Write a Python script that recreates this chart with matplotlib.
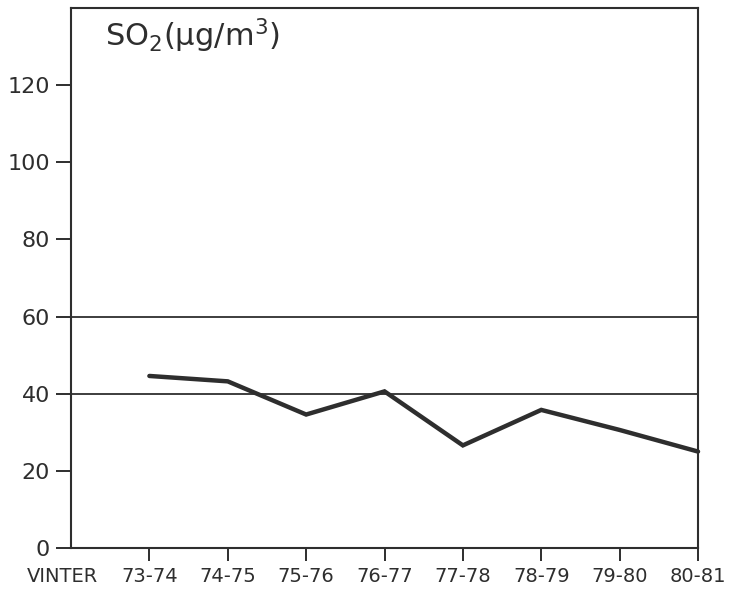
import matplotlib
matplotlib.use("Agg")
import matplotlib.pyplot as plt

# Winter-season mean SO2 concentrations
seasons = ["73-74", "74-75", "75-76", "76-77", "77-78", "78-79", "79-80", "80-81"]
so2 = [44.6, 43.2, 34.6, 40.6, 26.6, 35.8, 30.6, 25.0]
y_ticks = [0, 20, 40, 60, 80, 100, 120]
ref_levels = [40, 60]

ink = "#2e2e2e"
plt.rcParams["font.family"] = ["DejaVu Sans"]

fig = plt.figure(figsize=(7.29, 5.95), dpi=100)
ax = fig.add_axes([0.0974, 0.079, 0.8601, 0.9076])

x = list(range(1, len(seasons) + 1))

for lvl in ref_levels:
    ax.axhline(lvl, color=ink, lw=1.3, zorder=1)

ax.plot(x, so2, color=ink, lw=3.2, solid_capstyle="round",
        solid_joinstyle="miter", zorder=3, clip_on=False)

ax.set_xlim(0, len(seasons))
ax.set_ylim(0, 140)
ax.set_xticks(x)
ax.set_xticklabels(seasons, fontsize=14, color=ink)
ax.set_yticks(y_ticks)
ax.set_yticklabels([str(v) for v in y_ticks], fontsize=16, color=ink)

ax.tick_params(axis="y", direction="out", length=11, width=1.4, pad=4, colors=ink)
ax.tick_params(axis="x", direction="out", length=9, width=1.4, pad=5, colors=ink)
for side in ax.spines.values():
    side.set_linewidth(1.5)
    side.set_color(ink)

ax.annotate("VINTER", xy=(0, 0), xycoords="data", xytext=(-6, -14),
            textcoords="offset points", ha="center", va="top",
            fontsize=14, color=ink, annotation_clip=False)

ax.text(0.054, 0.928, r"SO$_2$(µg/m$^3$)", transform=ax.transAxes,
        fontsize=22, color=ink, ha="left", va="baseline")

fig.savefig("out.png", dpi=100)
